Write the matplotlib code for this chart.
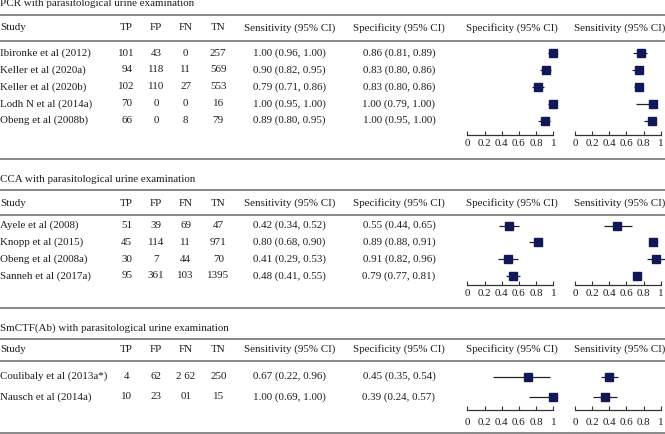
import matplotlib
matplotlib.use("Agg")
import matplotlib.pyplot as plt

plt.rcParams['font.family'] = ['Liberation Serif', 'DejaVu Serif']

W, H = 665, 434
FS = 7.9
TXT = '#1e1e1e'
LINE = '#6a6a6a'
NAVY = '#101858'

# ---------------- data ----------------
pcr_title = "PCR with parasitological urine examination"
pcr_studies = ["Ibironke et al (2012)", "Keller et al (2020a)", "Keller et al (2020b)",
               "Lodh N et al (2014a)", "Obeng et al (2008b)"]
pcr_tp = ["101", "94", "102", "70", "66"]
pcr_fp = ["43", "118", "110", "0", "0"]
pcr_fn = ["0", "11", "27", "0", "8"]
pcr_tn = ["257", "569", "553", "16", "79"]
pcr_sens = ["1.00 (0.96, 1.00)", "0.90 (0.82, 0.95)", "0.79 (0.71, 0.86)",
            "1.00 (0.95, 1.00)", "0.89 (0.80, 0.95)"]
pcr_spec = ["0.86 (0.81, 0.89)", "0.83 (0.80, 0.86)", "0.83 (0.80, 0.86)",
            "1.00 (0.79, 1.00)", "1.00 (0.95, 1.00)"]
pcr_p1_est = [1.00, 0.915, 0.82, 1.00, 0.905]
pcr_p1_lo = [0.94, 0.845, 0.755, 0.94, 0.825]
pcr_p1_hi = [1.00, 0.97, 0.89, 1.00, 0.96]
pcr_p2_est = [0.77, 0.75, 0.745, 0.915, 0.90]
pcr_p2_lo = [0.68, 0.67, 0.69, 0.71, 0.81]
pcr_p2_hi = [0.84, 0.79, 0.79, 0.95, 0.95]

cca_title = "CCA with parasitological urine examination"
cca_studies = ["Ayele et al (2008)", "Knopp et al (2015)", "Obeng et al (2008a)",
               "Sanneh et al (2017a)"]
cca_tp = ["51", "45", "30", "95"]
cca_fp = ["39", "114", "7", "361"]
cca_fn = ["69", "11", "44", "103"]
cca_tn = ["47", "971", "70", "1395"]
cca_sens = ["0.42 (0.34, 0.52)", "0.80 (0.68, 0.90)", "0.41 (0.29, 0.53)",
            "0.48 (0.41, 0.55)"]
cca_spec = ["0.55 (0.44, 0.65)", "0.89 (0.88, 0.91)", "0.91 (0.82, 0.96)",
            "0.79 (0.77, 0.81)"]
cca_p1_est = [0.49, 0.82, 0.47, 0.535]
cca_p1_lo = [0.37, 0.72, 0.36, 0.45]
cca_p1_hi = [0.60, 0.85, 0.59, 0.61]
cca_p2_est = [0.49, 0.907, 0.945, 0.723]
cca_p2_lo = [0.34, 0.88, 0.845, 0.70]
cca_p2_hi = [0.665, 0.93, 1.05, 0.75]

smc_title = "SmCTF(Ab) with parasitological urine examination"
smc_studies = ["Coulibaly et al (2013a*)", "Nausch et al (2014a)"]
smc_tp = ["4", "10"]
smc_fp = ["62", "23"]
smc_fn = ["2 62", "01"]
smc_tn = ["250", "15"]
smc_sens = ["0.67 (0.22, 0.96)", "1.00 (0.69, 1.00)"]
smc_spec = ["0.45 (0.35, 0.54)", "0.39 (0.24, 0.57)"]
smc_p1_est = [0.706, 1.00]
smc_p1_lo = [0.30, 0.72]
smc_p1_hi = [0.96, 1.00]
smc_p2_est = [0.40, 0.354]
smc_p2_lo = [0.30, 0.213]
smc_p2_hi = [0.505, 0.494]

headers = ["Study", "TP", "FP", "FN", "TN", "Sensitivity (95% CI)", "Specificity (95% CI)"]
plot_headers = ["Specificity (95% CI)", "Sensitivity (95% CI)"]
tick_vals = [0, 0.2, 0.4, 0.6, 0.8, 1.0]
tick_labels = ["0", "0.2", "0.4", "0.6", "0.8", "1"]

# ---------------- layout ----------------
col_x = [0.5, 126.7, 156, 185.7, 218.3, 289.5, 399]
col_ha = ['left', 'center', 'center', 'center', 'center', 'center', 'center']
plot_x = [(467.3, 553.3), (575, 660.7)]
plot_hdr_x = [512, 619.5]

sections = [
    dict(title=pcr_title, studies=pcr_studies, tp=pcr_tp, fp=pcr_fp, fn=pcr_fn, tn=pcr_tn,
         sens=pcr_sens, spec=pcr_spec,
         p=[(pcr_p1_est, pcr_p1_lo, pcr_p1_hi), (pcr_p2_est, pcr_p2_lo, pcr_p2_hi)],
         title_y=4, top_line=15, hdr_y=28, hdr_line=40.7, row0=53, step=16.9,
         axis_y=135, lab_pad=3.2, bottom_line=159.3),
    dict(title=cca_title, studies=cca_studies, tp=cca_tp, fp=cca_fp, fn=cca_fn, tn=cca_tn,
         sens=cca_sens, spec=cca_spec,
         p=[(cca_p1_est, cca_p1_lo, cca_p1_hi), (cca_p2_est, cca_p2_lo, cca_p2_hi)],
         title_y=179, top_line=189.5, hdr_y=203, hdr_line=215, row0=225.5, step=16.8,
         axis_y=285, lab_pad=3.2, bottom_line=308.3),
    dict(title=smc_title, studies=smc_studies, tp=smc_tp, fp=smc_fp, fn=smc_fn, tn=smc_tn,
         sens=smc_sens, spec=smc_spec,
         p=[(smc_p1_est, smc_p1_lo, smc_p1_hi), (smc_p2_est, smc_p2_lo, smc_p2_hi)],
         title_y=328, top_line=339.3, hdr_y=349.3, hdr_line=361, row0=376.5, step=20.2,
         axis_y=409.5, lab_pad=6.0, bottom_line=433.3),
]

fig = plt.figure(figsize=(W / 100, H / 100), dpi=100)
bg = fig.add_axes([0, 0, 1, 1])
bg.set_xlim(0, W)
bg.set_ylim(H, 0)
bg.axis('off')

for s in sections:
    bg.text(0.5, s['title_y'], s['title'], fontsize=FS, color=TXT, ha='left', va='center')
    for yl in (s['top_line'], s['hdr_line'], s['bottom_line']):
        bg.axhline(yl, color=LINE, lw=1.1)
    for x, ha, h in zip(col_x, col_ha, headers):
        bg.text(x, s['hdr_y'], h, fontsize=FS, color=TXT, ha=ha, va='center')
    for x, h in zip(plot_hdr_x, plot_headers):
        bg.text(x, s['hdr_y'], h, fontsize=FS, color=TXT, ha='center', va='center')
    cols = [s['studies'], s['tp'], s['fp'], s['fn'], s['tn'], s['sens'], s['spec']]
    n = len(s['studies'])
    rows_y = [s['row0'] + i * s['step'] for i in range(n)]
    for x, ha, vals in zip(col_x, col_ha, cols):
        for y, v in zip(rows_y, vals):
            bg.text(x, y, v, fontsize=FS, color=TXT, ha=ha, va='center')

    y_top = s['hdr_line'] + 2
    for (x0, x1), (est, lo, hi) in zip(plot_x, s['p']):
        ax = fig.add_axes([x0 / W, 1 - s['axis_y'] / H, (x1 - x0) / W,
                           (s['axis_y'] - y_top) / H])
        ax.patch.set_alpha(0)
        ax.set_xlim(0, 1)
        ax.set_ylim(s['axis_y'], y_top)
        for sp in ('top', 'left', 'right'):
            ax.spines[sp].set_visible(False)
        ax.spines['bottom'].set_color('#333333')
        ax.spines['bottom'].set_linewidth(0.9)
        ax.set_yticks([])
        ax.set_xticks(tick_vals)
        ax.set_xticklabels(tick_labels)
        ax.tick_params(axis='x', direction='in', length=3, width=0.8, color='#333333',
                       labelsize=FS, labelcolor=TXT, pad=s['lab_pad'])
        ax.hlines(rows_y, lo, hi, color='#222222', lw=0.9, clip_on=False, zorder=2)
        ax.plot(est, rows_y, marker='s', ms=5.6, color=NAVY, ls='none',
                clip_on=False, zorder=3)

fig.savefig('out.png', dpi=100)
